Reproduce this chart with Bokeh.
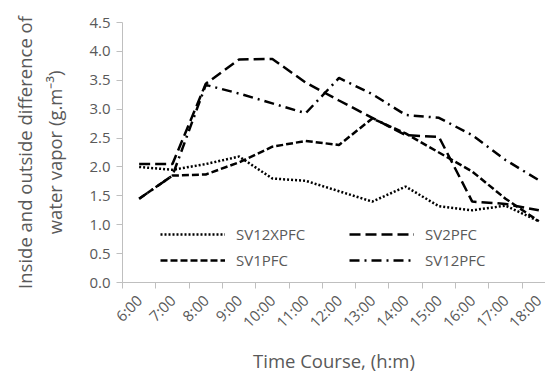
import math
from bokeh.plotting import figure
from bokeh.models import (Range1d, FixedTicker, NumeralTickFormatter, Legend, LegendItem)
from bokeh.embed import file_html
from bokeh.resources import INLINE

# ---- data ----
times = ["6:00", "7:00", "8:00", "9:00", "10:00", "11:00", "12:00",
         "13:00", "14:00", "15:00", "16:00", "17:00", "18:00"]
sv12xpfc = [2.00, 1.95, 2.05, 2.18, 1.80, 1.76, 1.58, 1.40, 1.66, 1.32, 1.25, 1.33, 1.06]
sv2pfc   = [2.05, 2.05, 3.44, 3.86, 3.87, 3.46, 3.15, 2.85, 2.55, 2.52, 1.40, 1.36, 1.25]
sv1pfc   = [1.45, 1.85, 1.87, 2.08, 2.35, 2.45, 2.38, 2.84, 2.58, 2.25, 1.92, 1.45, 1.06]
sv12pfc  = [1.45, 1.85, 3.42, 3.27, 3.10, 2.93, 3.54, 3.26, 2.90, 2.85, 2.55, 2.12, 1.77]
y_ticks = [0.0, 0.5, 1.0, 1.5, 2.0, 2.5, 3.0, 3.5, 4.0, 4.5]

xs = [i + 0.5 for i in range(len(times))]

TEXT = "#595959"
AXIS = "#bfbfbf"
FONT = "Open Sans"

p = figure(width=545, height=376, output_backend="svg", toolbar_location=None,
           x_range=Range1d(0, 12.7), y_range=Range1d(0, 4.5),
           min_border_left=122, min_border_right=0, min_border_top=22,
           min_border_bottom=94)
p.outline_line_color = None
p.grid.visible = False
p.background_fill_color = "white"
p.border_fill_color = "white"

r1 = p.line(xs, sv12xpfc, line_color="black", line_width=2.5, line_dash="2 2")
r2 = p.line(xs, sv2pfc, line_color="black", line_width=2.5, line_dash="11 5")
r3 = p.line(xs, sv1pfc, line_color="black", line_width=2.5, line_dash="7 3")
r4 = p.line(xs, sv12pfc, line_color="black", line_width=2.5, line_dash="10 5 2 5")

# x axis
xa = p.xaxis[0]
xa.ticker = FixedTicker(ticks=xs, minor_ticks=list(range(len(times) + 1)))
xa.major_label_overrides = {x: t for x, t in zip(xs, times)}
xa.major_tick_out = 0
xa.major_tick_in = 0
xa.minor_tick_out = 6
xa.minor_tick_in = 0
xa.minor_tick_line_color = AXIS
xa.axis_line_color = AXIS
xa.major_label_orientation = math.pi / 4
xa.major_label_standoff = 9
xa.major_label_text_font = FONT
xa.major_label_text_font_size = "15px"
xa.major_label_text_color = TEXT
xa.axis_label = "Time Course, (h:m)"
xa.axis_label_text_font = FONT
xa.axis_label_text_font_size = "18.5px"
xa.axis_label_text_font_style = "normal"
xa.axis_label_text_color = TEXT
xa.axis_label_standoff = 6

# y axis
ya = p.yaxis[0]
ya.ticker = FixedTicker(ticks=y_ticks)
ya.formatter = NumeralTickFormatter(format="0.0")
ya.major_tick_out = 6
ya.major_tick_in = 0
ya.minor_tick_line_color = None
ya.major_tick_line_color = AXIS
ya.axis_line_color = AXIS
ya.major_label_text_font = FONT
ya.major_label_text_font_size = "15px"
ya.major_label_text_color = TEXT
ya.major_label_standoff = 6
ya.axis_label = "Inside and outside difference of\nwater vapor (g.m\u207b\u00b3)"
ya.axis_label_text_font = FONT
ya.axis_label_text_font_size = "18.5px"
ya.axis_label_text_font_style = "normal"
ya.axis_label_text_color = TEXT
ya.axis_label_standoff = 19

legend = Legend(items=[
    LegendItem(label="SV12XPFC", renderers=[r1]),
    LegendItem(label="SV1PFC", renderers=[r3]),
    LegendItem(label="SV2PFC", renderers=[r2]),
    LegendItem(label="SV12PFC", renderers=[r4]),
], ncols=2, orientation="vertical", location=(38, 9),
    glyph_width=65, glyph_height=26, label_height=26, label_width=113,
    label_standoff=11, spacing=0, padding=0, margin=0,
    border_line_color=None, background_fill_alpha=0,
    label_text_font=FONT, label_text_font_size="15px", label_text_color=TEXT)
p.add_layout(legend, "center")

open("out.html", "w").write(file_html(p, INLINE))
